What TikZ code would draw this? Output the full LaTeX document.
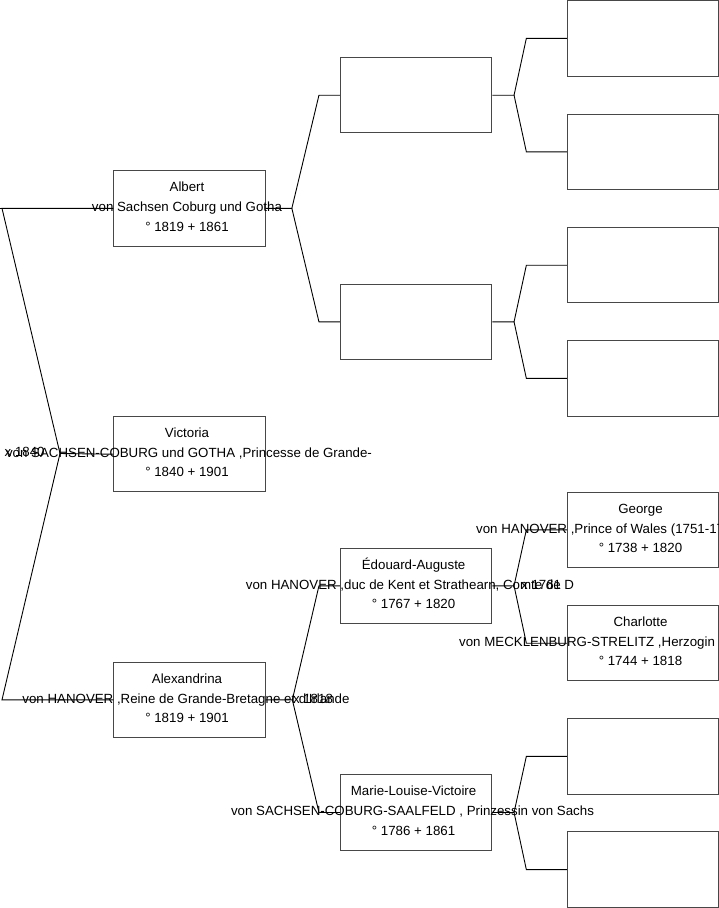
\documentclass[tikz,border=0pt]{standalone}
\usepackage{fontspec}
\setmainfont{Liberation Sans}
\tikzset{
  pbox/.style={draw=black!72, line width=1pt, minimum width=151.3pt, minimum height=75.5pt, inner sep=0pt},
  ptext/.style={anchor=base, inner sep=0pt, font=\fontsize{13.3}{15}\selectfont},
  ptextw/.style={anchor=base west, inner sep=0pt, font=\fontsize{13.3}{15}\selectfont},
  marr/.style={anchor=base west, inner sep=0pt, font=\fontsize{13.3}{15}\selectfont},
  conn/.style={draw=black, line width=0.9pt},
}
\begin{document}
\begin{tikzpicture}[x=1pt,y=-1pt]
\useasboundingbox (0,0) rectangle (719,908);

% ---------- generation 1 ----------
\node[pbox] (alb) at (189.4,208.3) {};
\node[ptext] (alb-n) at (187,191.7) {Albert};
\node[ptext] (alb-v) at (187,211.7) {von Sachsen Coburg und Gotha};
\node[ptext] (alb-d) at (187,231) {° 1819 + 1861};

\node[pbox] (vic) at (189.4,454.2) {};
\node[ptext] (vic-n) at (187,437.6) {Victoria};
\node[ptext] (vic-v) at (189,457.6) {von SACHSEN-COBURG und GOTHA ,Princesse de Grande-};
\node[ptext] (vic-d) at (187,476.9) {° 1840 + 1901};

\node[pbox] (alx) at (189.4,699.8) {};
\node[ptext] (alx-n) at (187,683.2) {Alexandrina};
\node[ptext] (alx-v) at (186,703.2) {von HANOVER ,Reine de Grande-Bretagne et d\textquotesingle Irlande};
\node[ptext] (alx-d) at (187,722.5) {° 1819 + 1901};

% ---------- generation 2 ----------
\node[pbox] (g2a) at (416.1,95.2) {};
\node[pbox] (g2b) at (416.1,321.8) {};

\node[pbox] (edo) at (416.1,585.8) {};
\node[ptext] (edo-n) at (413.6,569.2) {Édouard-Auguste};
\node[ptext] (edo-v) at (410,589.2) {von HANOVER ,duc de Kent et Strathearn, Comte de D};
\node[ptext] (edo-d) at (413.6,608.5) {° 1767 + 1820};

\node[pbox] (mlv) at (416.1,812.5) {};
\node[ptext] (mlv-n) at (413.6,795.9) {Marie-Louise-Victoire};
\node[ptext] (mlv-v) at (412.5,815.9) {von SACHSEN-COBURG-SAALFELD , Prinzessin von Sachs};
\node[ptext] (mlv-d) at (413.6,835.2) {° 1786 + 1861};

% ---------- generation 3 ----------
\node[pbox] (g3a) at (643,38.3) {};
\node[pbox] (g3b) at (643,151.8) {};
\node[pbox] (g3c) at (643,265.2) {};
\node[pbox] (g3d) at (643,378.4) {};

\node[pbox] (geo) at (643,529.8) {};
\node[ptext] (geo-n) at (640.5,513.2) {George};
\node[ptextw] (geo-v) at (476,533.2) {von HANOVER ,Prince of Wales (1751-1760)};
\node[ptext] (geo-d) at (640.5,552.5) {° 1738 + 1820};

\node[pbox] (cha) at (643,643.2) {};
\node[ptext] (cha-n) at (640.5,626.6) {Charlotte};
\node[ptextw] (cha-v) at (459,646.6) {von MECKLENBURG-STRELITZ ,Herzogin};
\node[ptext] (cha-d) at (640.5,665.9) {° 1744 + 1818};

\node[pbox] (g3g) at (643,756.3) {};
\node[pbox] (g3h) at (643,869.6) {};

% ---------- marriage labels ----------
\node[marr] (m1840) at (4.5,456) {x 1840};
\node[marr] (m1818) at (292.8,703) {x 1818};
\node[marr] (m1761) at (521,589) {x 1761};

% ---------- connectors ----------
% Victoria -> her parents
\coordinate (fv) at (60,453.5);
\draw[conn] (vic.west) -- (fv) -- (2,208.3) -- (alb.west);
\draw[conn] (0,208.3) -- (2,208.3);
\draw[conn] (fv) -- (2,699.8) -- (alx.west);

% Albert -> parents
\draw[conn] (alb.east) -- ++(26.3,0) coordinate (fa)
  -- ([xshift=-21pt]g2a.west) -- (g2a.west);
\draw[conn] (fa) -- ([xshift=-21pt]g2b.west) -- (g2b.west);

% Alexandrina -> parents
\draw[conn] (alx.east) -- ++(26.8,0) coordinate (fx)
  -- ([xshift=-21pt]edo.west) -- (edo.west);
\draw[conn] (fx) -- ([xshift=-21pt]mlv.west) -- (mlv.west);

% generation 2 -> generation 3
\draw[conn] (g2a.east) -- ++(21.8,0) coordinate (fA)
  -- ([xshift=-40.5pt]g3a.west) -- (g3a.west);
\draw[conn] (fA) -- ([xshift=-40.5pt]g3b.west) -- (g3b.west);

\draw[conn] (g2b.east) -- ++(21.8,0) coordinate (fB)
  -- ([xshift=-40.5pt]g3c.west) -- (g3c.west);
\draw[conn] (fB) -- ([xshift=-40.5pt]g3d.west) -- (g3d.west);

\draw[conn] (edo.east) -- ++(21.8,0) coordinate (fE)
  -- ([xshift=-40.5pt]geo.west) -- (geo.west);
\draw[conn] (fE) -- ([xshift=-40.5pt]cha.west) -- (cha.west);

\draw[conn] (mlv.east) -- ++(21.8,0) coordinate (fM)
  -- ([xshift=-40.5pt]g3g.west) -- (g3g.west);
\draw[conn] (fM) -- ([xshift=-40.5pt]g3h.west) -- (g3h.west);
\end{tikzpicture}
\end{document}
